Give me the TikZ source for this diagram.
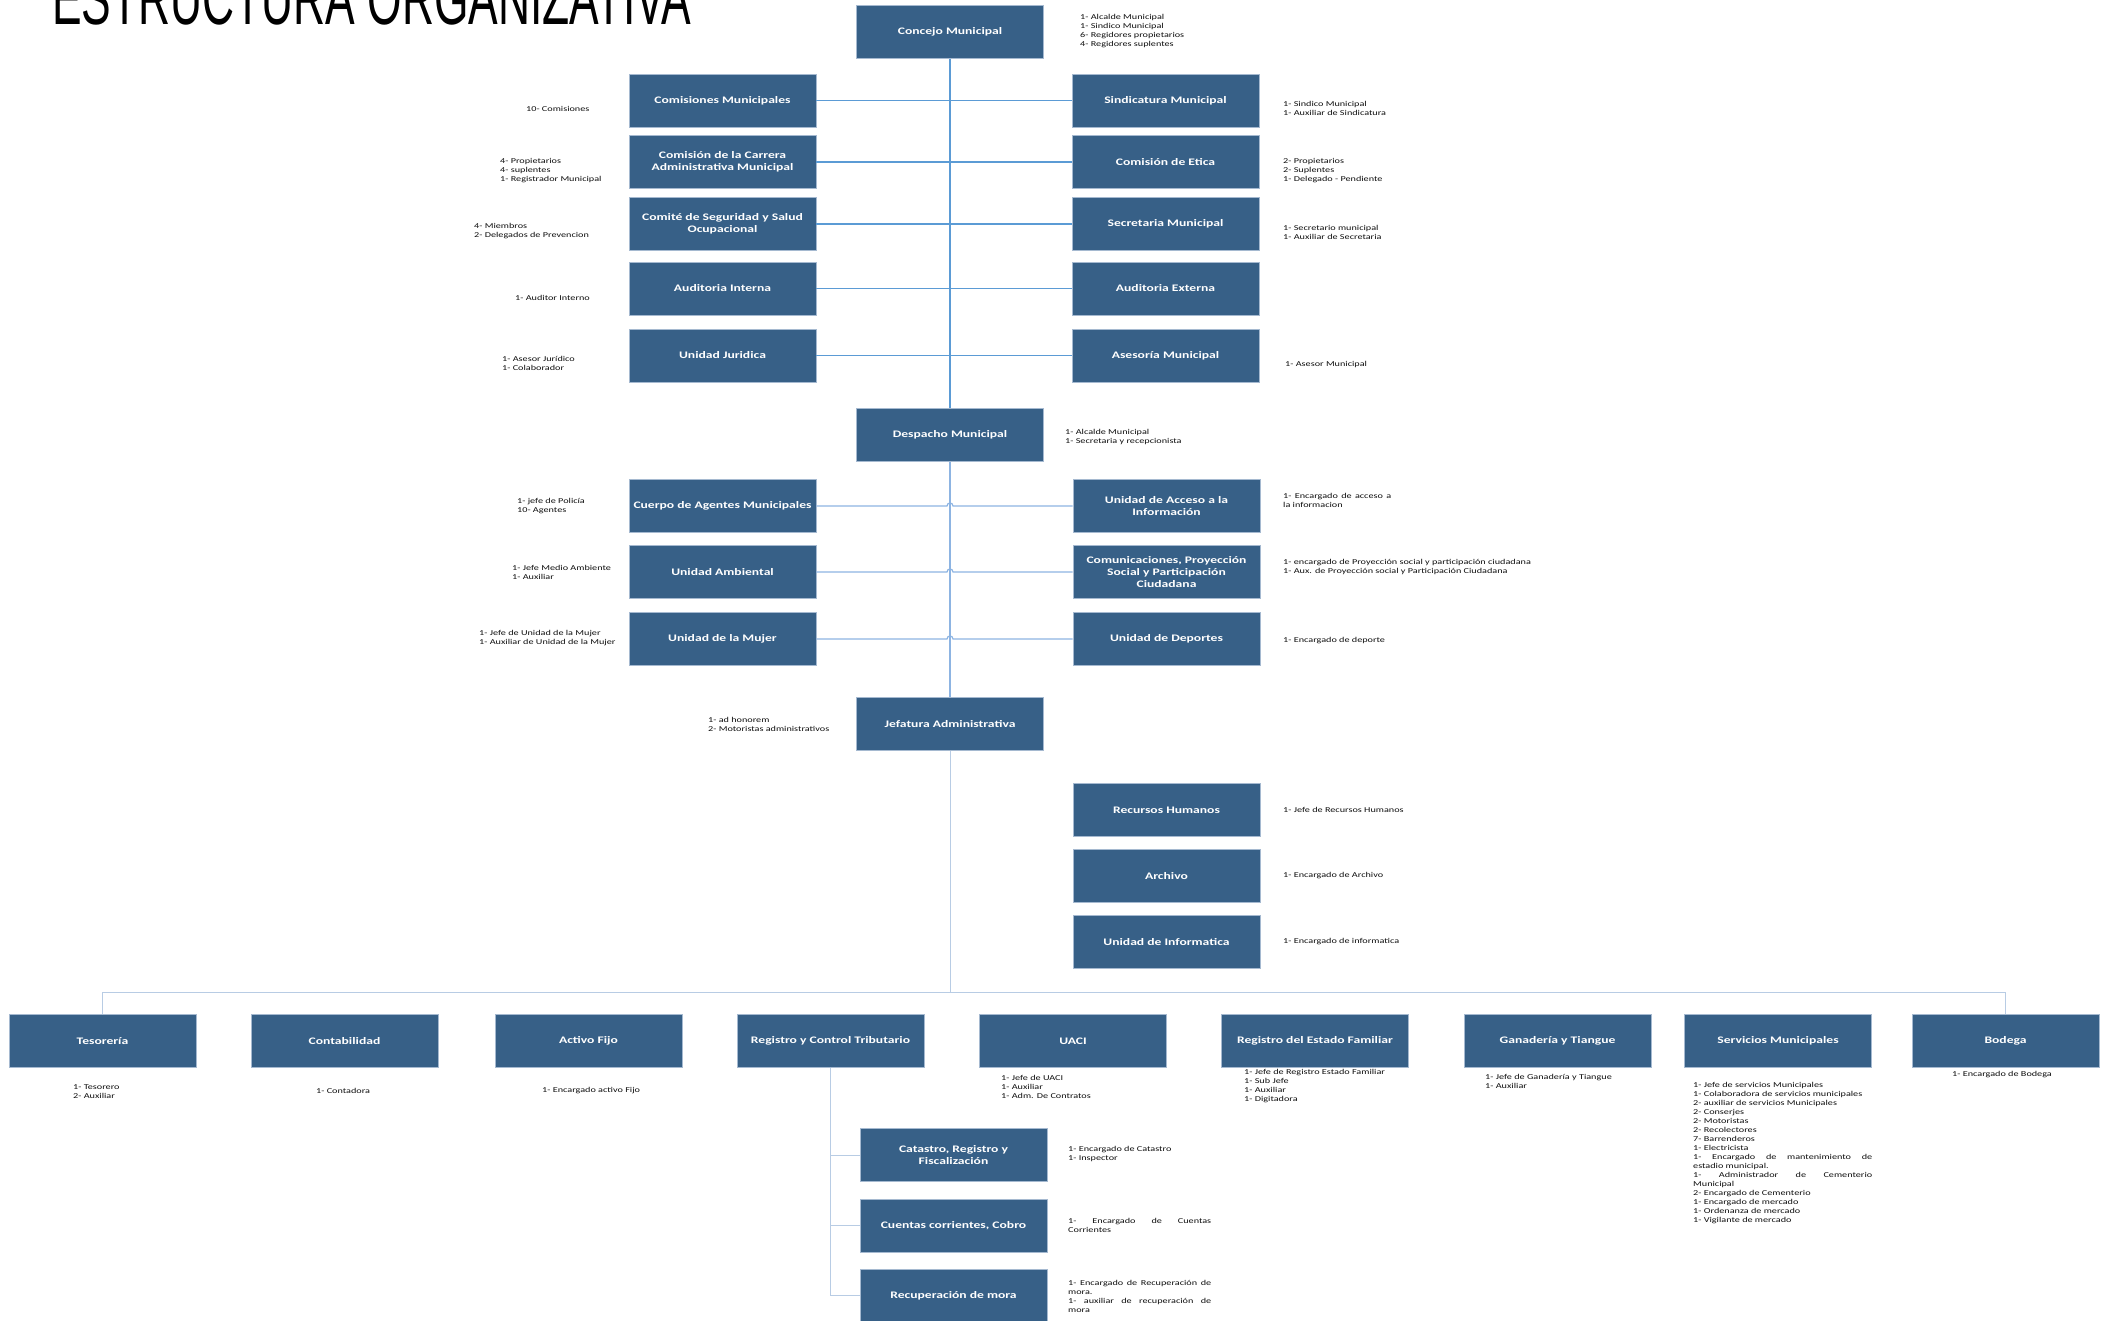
\documentclass[tikz,border=0pt]{standalone}
\usepackage{fontspec}
\usepackage{graphicx}
\usetikzlibrary{calc}
\newfontfamily\cf[FakeStretch=1.36]{Carlito}
\newfontfamily\titlefont{Liberation Sans}
\definecolor{boxfill}{RGB}{55,96,135}
\definecolor{boxedge}{RGB}{165,185,208}
\definecolor{lineA}{RGB}{91,155,213}
\definecolor{lineB}{RGB}{141,180,226}
\definecolor{lineC}{RGB}{184,204,228}
\definecolor{notegray}{RGB}{15,15,15}
\newcommand{\jl}[2]{\makebox[#1][s]{#2}}
\begin{document}
\begin{tikzpicture}[x=1pt,y=-1pt,
  box/.style={draw=boxedge, fill=boxfill, line width=0.8pt, minimum width=187pt,
    minimum height=53pt, inner sep=0pt, align=center, text=white,
    font=\cf\bfseries\fontsize{10}{12.3}\selectfont},
  note/.style={anchor=west, inner sep=0pt, align=left, text=notegray,
    font=\cf\fontsize{7.5}{9}\selectfont},
  upv/.style={draw=lineA, line width=2pt},
  uph/.style={draw=lineA, line width=1.4pt},
  midl/.style={draw=lineB, line width=1.2pt},
  lowl/.style={draw=lineC, line width=1pt}]
\useasboundingbox (0,0) rectangle (2108,1320);

% title
\node[anchor=south west, inner sep=0pt] (title) at (52,25)
  {\resizebox{639pt}{52pt}{\titlefont ESTRUCTURA ORGANIZATIVA}};

% top
\node[box] (concejo) at (950,32) {Concejo Municipal};
\node[box] (com)  at (722.5,100.5) {Comisiones Municipales};
\node[box] (carr) at (722.5,162) {Comisión de la Carrera\\Administrativa Municipal};
\node[box] (seg)  at (722.5,224) {Comité de Seguridad y Salud\\Ocupacional};
\node[box] (audi) at (722.5,288.5) {Auditoria Interna};
\node[box] (jur)  at (722.5,355.5) {Unidad Juridica};
\node[box] (sind) at (1165.5,100.5) {Sindicatura Municipal};
\node[box] (etica) at (1165.5,162) {Comisión de Etica};
\node[box] (sec)  at (1165.5,224) {Secretaria Municipal};
\node[box] (aude) at (1165.5,288.5) {Auditoria Externa};
\node[box] (ases) at (1165.5,355.5) {Asesoría Municipal};
\node[box] (despacho) at (950,435) {Despacho Municipal};

% middle
\node[box] (cam) at (722.5,506) {Cuerpo de Agentes Municipales};
\node[box] (amb) at (722.5,572) {Unidad Ambiental};
\node[box] (muj) at (722.5,639) {Unidad de la Mujer};
\node[box] (uai) at (1166.5,506) {Unidad de Acceso a la\\Información};
\node[box] (comu) at (1166.5,572) {Comunicaciones, Proyección\\Social y Participación\\Ciudadana};
\node[box] (dep) at (1166.5,639) {Unidad de Deportes};
\node[box] (jef) at (950,724) {Jefatura Administrativa};
\node[box] (rh) at (1166.5,810) {Recursos Humanos};
\node[box] (arch) at (1166.5,876) {Archivo};
\node[box] (inf) at (1166.5,942) {Unidad de Informatica};

% bottom row
\node[box] (tes)  at (102.5,1041) {Tesorería};
\node[box] (cont) at (344.5,1041) {Contabilidad};
\node[box] (act)  at (588.5,1041) {Activo Fijo};
\node[box] (rct)  at (830.5,1041) {Registro y Control Tributario};
\node[box] (uaci) at (1073,1041) {UACI};
\node[box] (ref)  at (1315,1041) {Registro del Estado Familiar};
\node[box] (gan)  at (1557.5,1041) {Ganadería y Tiangue};
\node[box] (serv) at (1778,1041) {Servicios Municipales};
\node[box] (bod)  at (2005.5,1041) {Bodega};
\node[box] (cat) at (953.5,1155) {Catastro, Registro y\\Fiscalización};
\node[box] (cue) at (953.5,1225.5) {Cuentas corrientes, Cobro};
\node[box] (rec) at (953.5,1295.5) {Recuperación de mora};

% connectors top
\draw[upv] (concejo.south) -- (despacho.north);
\foreach \a/\b in {com/sind, carr/etica, seg/sec, audi/aude, jur/ases}
  \draw[uph] (\a.east) -- (\b.west);

% connectors middle with hops
\draw[midl] (despacho.south) -- (jef.north);
\foreach \a/\b in {cam/uai, amb/comu, muj/dep}
  \draw[midl] (\a.east) -- ($(\a.east -| despacho.south)+(-3,0)$)
    .. controls +(0,-4) and +(0,-4) .. ($(\a.east -| despacho.south)+(3,0)$) -- (\b.west);

% connectors bottom
\coordinate (bus) at (950,992);
\draw[lowl] (jef.south) -- (bus);
\draw[lowl] (tes.north) |- (bus);
\draw[lowl] (bod.north) |- (bus);
\draw[lowl] (rct.south) |- (cat.west);
\draw[lowl] (rct.south) |- (cue.west);
\draw[lowl] (rct.south) |- (rec.west);

% notes
\node[note] (nconcejo) at (1080,31) {1- Alcalde Municipal\\1- Sindico Municipal\\6- Regidores propietarios\\4- Regidores suplentes};
\node[note] (ncom) at (526,109) {10- Comisiones};
\node[note] (ncarr) at (500,171) {4- Propietarios\\4- suplentes\\1- Registrador Municipal};
\node[note] (nseg) at (474,231.5) {4- Miembros\\2- Delegados de Prevencion};
\node[note] (naudi) at (515,298) {1- Auditor Interno};
\node[note] (njur) at (502,363.5) {1- Asesor Jurídico\\1- Colaborador};
\node[note] (nsind) at (1283,108.5) {1- Sindico Municipal\\1- Auxiliar de Sindicatura};
\node[note] (netica) at (1283,171) {2- Propietarios\\2- Suplentes\\1- Delegado - Pendiente};
\node[note] (nsec) at (1283,232.5) {1- Secretario municipal\\1- Auxiliar de Secretaria};
\node[note] (nases) at (1285,364) {1- Asesor Municipal};
\node[note] (ndesp) at (1065,436.5) {1- Alcalde Municipal\\1- Secretaria y recepcionista};
\node[note] (ncam) at (517,506.5) {1- jefe de Policía\\10- Agentes};
\node[note] (namb) at (512,572.5) {1- Jefe Medio Ambiente\\1- Auxiliar};
\node[note] (nmuj) at (479,638.5) {1- Jefe de Unidad de la Mujer\\1- Auxiliar de Unidad de la Mujer};
\node[note] (njef) at (708,724.5) {1- ad honorem\\2- Motoristas administrativos};
\node[note] (nuai) at (1283,500) {\jl{108pt}{1- Encargado de acceso a}\\la informacion};
\node[note] (ncomu) at (1283,566.5) {1- encargado de Proyección social y participación ciudadana\\1- Aux. de Proyección social y Participación Ciudadana};
\node[note] (ndep) at (1283,641) {1- Encargado de deporte};
\node[note] (nrh) at (1283,810) {1- Jefe de Recursos Humanos};
\node[note] (narch) at (1283,876) {1- Encargado de Archivo};
\node[note] (ninf) at (1283,942) {1- Encargado de informatica};
\node[note] (ntes) at (73,1091.5) {1- Tesorero\\2- Auxiliar};
\node[note] (ncont) at (316,1091) {1- Contadora};
\node[note] (nact) at (542,1091) {1- Encargado activo Fijo};
\node[note] (nuaci) at (1001,1087) {1- Jefe de UACI\\1- Auxiliar\\1- Adm. De Contratos};
\node[note] (nref) at (1244,1086.5) {1- Jefe de Registro Estado Familiar\\1- Sub Jefe\\1- Auxiliar\\1- Digitadora};
\node[note] (ngan) at (1485,1081.5) {1- Jefe de Ganadería y Tiangue\\1- Auxiliar};
\node[note] (nbod) at (1952,1075) {1- Encargado de Bodega};
\node[note] (nserv) at (1693,1153.5) {1- Jefe de servicios Municipales\\1- Colaboradora de servicios municipales\\2- auxiliar de servicios Municipales\\2- Conserjes\\2- Motoristas\\2- Recolectores\\7- Barrenderos\\1- Electricista\\\jl{179pt}{1- Encargado de mantenimiento de}\\estadio municipal.\\\jl{179pt}{1- Administrador de Cementerio}\\Municipal\\2- Encargado de Cementerio\\1- Encargado de mercado\\1- Ordenanza de mercado\\1- Vigilante de mercado};
\node[note] (ncat) at (1068,1153.5) {1- Encargado de Catastro\\1- Inspector};
\node[note] (ncue) at (1068,1225.5) {\jl{143pt}{1- Encargado de Cuentas}\\Corrientes};
\node[note] (nrec) at (1068,1296) {\jl{143pt}{1- Encargado de Recuperación de}\\mora.\\\jl{143pt}{1- auxiliar de recuperación de}\\mora};
\end{tikzpicture}
\end{document}
